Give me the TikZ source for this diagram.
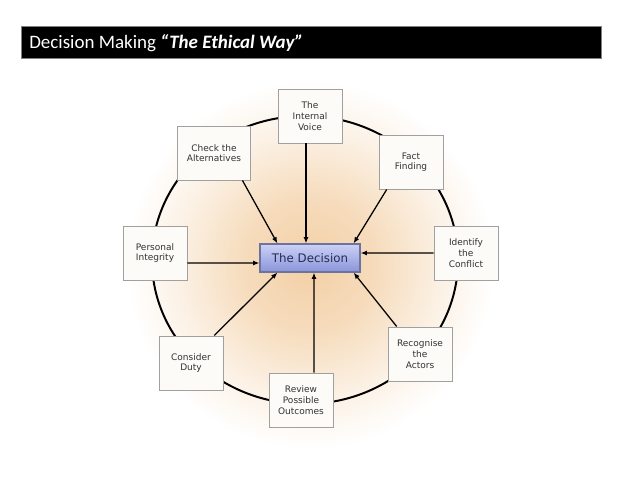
\documentclass[tikz,border=0pt]{standalone}
\usepackage{fontspec}
\setmainfont{DejaVu Sans}
\newfontfamily\titlefont{Carlito}
\usetikzlibrary{positioning,arrows.meta}
\usepackage{xcolor}
\definecolor{peach}{RGB}{243,208,166}
\definecolor{dectop}{RGB}{204,209,246}
\definecolor{decbot}{RGB}{138,148,218}
\definecolor{decdraw}{RGB}{108,116,158}
\definecolor{dectext}{RGB}{36,46,82}
\definecolor{boxdraw}{RGB}{160,160,160}
\definecolor{boxtext}{RGB}{50,50,50}
\definecolor{boxfill}{RGB}{252,251,248}
\pgfdeclareradialshading{glow}{\pgfpoint{0bp}{0bp}}{color(0bp)=(peach); color(9bp)=(peach!75!white); color(18bp)=(peach!30!white); color(25bp)=(white); color(50bp)=(white)}

\begin{document}
\begin{tikzpicture}[
      x=0.025cm, y=-0.025cm,
      box/.style={
        draw=boxdraw, fill=boxfill, text=boxtext,
        align=center, minimum width=1.6cm, minimum height=1.36cm,
        inner sep=0pt, font=\fontsize{6.4}{7.6}\selectfont
      },
      dec/.style={
        draw=decdraw, top color=dectop, bottom color=decbot, text=dectext,
        minimum width=2.5cm, minimum height=0.7cm, inner sep=0pt,
        line width=0.8pt, font=\fontsize{8.4}{10}\selectfont
      },
      arr/.style={-{Latex[length=4.5pt,width=3.6pt]}, line width=0.9pt}
    ]
      \useasboundingbox (0,0) rectangle (638,479);
      \fill[white] (0,0) rectangle (638,479);
      \node[fill=black, draw=gray, anchor=north west, inner sep=0pt,
        minimum width=14.5cm, minimum height=0.8cm] (bar) at (21,26) {};
      \node[anchor=base west, inner sep=0pt, text=white,
        font=\titlefont\fontsize{13.5}{16}\selectfont] (title) at (29,49)
        {Decision Making \textbf{\textit{“The Ethical Way”}}};

      \shade[shading=glow] (310,265) circle[radius=4.6cm];
      \draw[line width=1.4pt] (305,260) ellipse[x radius=3.825cm, y radius=3.6cm];

      \node[box] (voice) at (310,116) {The\\Internal\\Voice};
      \node[box, minimum width=1.83cm] (alt) at (214,153) {Check the\\Alternatives};
      \node[box] (fact) at (411,162) {Fact\\Finding};
      \node[box] (integ) at (155,253) {Personal\\Integrity};
      \node[box] (conflict) at (466,253) {Identify\\the\\Conflict};
      \node[box] (duty) at (191,363) {Consider\\Duty};
      \node[box] (review) at (301,400) {Review\\Possible\\Outcomes};
      \node[box] (actors) at (420,354) {Recognise\\the\\Actors};
      \node[dec] (decision) at (310,258) {The Decision};

      \draw[arr] ([xshift=-0.21cm]alt.south east) -- ([xshift=0.45cm]decision.north west);
      \draw[arr] ([xshift=-0.1cm]voice.south) -- ([xshift=-0.1cm]decision.north);
      \draw[arr] ([xshift=0.2cm]fact.south west) -- ([xshift=-0.175cm]decision.north east);
      \draw[arr] (conflict.west) -- ([yshift=0.125cm]decision.east);
      \draw[arr] ([yshift=-0.25cm]integ.east) -- ([yshift=-0.125cm]decision.west);
      \draw[arr] ([xshift=-0.225cm]duty.north east) -- ([xshift=0.45cm]decision.south west);
      \draw[arr] ([xshift=0.325cm]review.north) -- ([xshift=0.1cm]decision.south);
      \draw[arr] ([xshift=0.225cm]actors.north west) -- ([xshift=-0.175cm]decision.south east);
    \end{tikzpicture}
\end{document}
